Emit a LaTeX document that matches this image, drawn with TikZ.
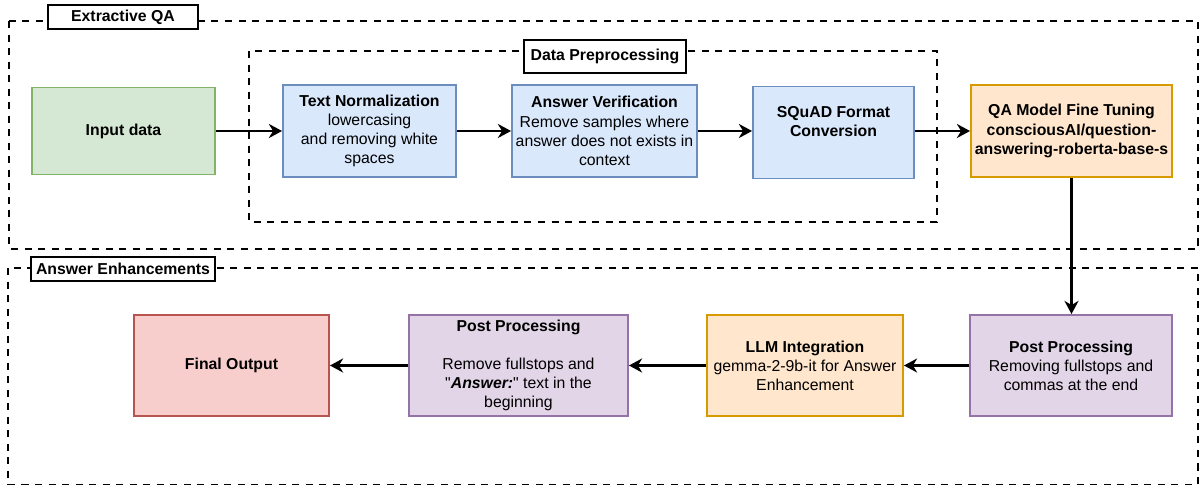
\documentclass[tikz,border=0pt]{standalone}
\usepackage{fontspec}
\setmainfont{Liberation Sans}
\usetikzlibrary{arrows.meta}
\definecolor{gfill}{HTML}{D5E8D4}\definecolor{gline}{HTML}{82B366}
\definecolor{bfill}{HTML}{DAE8FC}\definecolor{bline}{HTML}{6C8EBF}
\definecolor{ofill}{HTML}{FFE6CC}\definecolor{oline}{HTML}{D79B00}
\definecolor{pfill}{HTML}{E1D5E7}\definecolor{pline}{HTML}{9673A6}
\definecolor{rfill}{HTML}{F8CECC}\definecolor{rline}{HTML}{B85450}
\begin{document}
\begin{tikzpicture}[x=0.02cm,y=-0.02cm,
  box/.style={draw, line width=1.1pt, align=center, inner sep=0pt,
    font=\fontsize{9}{10.9}\selectfont},
  greenbox/.style={box, fill=gfill, draw=gline},
  bluebox/.style={box, fill=bfill, draw=bline},
  orangebox/.style={box, fill=ofill, draw=oline},
  purplebox/.style={box, fill=pfill, draw=pline},
  redbox/.style={box, fill=rfill, draw=rline},
  grp/.style={draw, line width=1.1pt, dash pattern=on 4pt off 3.7pt},
  lab/.style={draw, fill=white, line width=1.1pt, inner sep=0pt,
    font=\fontsize{9}{10.9}\selectfont\bfseries},
  flow/.style={line width=1.25pt, -{Stealth[length=7.5pt, width=8pt, inset=2.4pt]}}
]
\useasboundingbox (0,0) rectangle (1200,486);

% group frames
\draw[grp] (9,21) rectangle (1198,249);
\draw[grp] (249,51) rectangle (937,222);
\draw[grp] (8,268) rectangle (1198,484.5);

\node[lab, minimum width=3.0cm, minimum height=0.48cm] (lqa) at (123,17) {Extractive QA};
\node[lab, minimum width=3.24cm, minimum height=0.66cm] (ldp) at (605,56.5) {Data Preprocessing};
\node[lab, minimum width=3.68cm, minimum height=0.48cm] (lae) at (123,269) {Answer Enhancements};

% top row
\node[greenbox, minimum width=3.66cm, minimum height=1.74cm, font=\fontsize{9}{10.9}\selectfont\bfseries] (in) at (123.5,131) {Input data};
\node[bluebox, minimum width=3.46cm, minimum height=1.84cm] (tn) at (369.5,131) {\textbf{Text Normalization}\\lowercasing\\and removing white\\spaces};
\node[bluebox, minimum width=3.7cm, minimum height=1.84cm] (av) at (604.5,131) {\textbf{Answer Verification}\\Remove samples where\\answer does not exists in\\context};
\node[bluebox, minimum width=3.22cm, minimum height=1.84cm, font=\fontsize{9}{10.9}\selectfont\bfseries] (sq) at (833.5,132.5) {\strut SQuAD Format\\\strut Conversion\\\strut};
\node[orangebox, minimum width=4.02cm, minimum height=1.84cm, font=\fontsize{9}{10.9}\selectfont\bfseries] (qa) at (1071.5,131) {QA Model Fine Tuning\\consciousAI/question-\\answering-roberta-base-s};

% bottom row
\node[purplebox, minimum width=4.04cm, minimum height=2.02cm] (pp1) at (1071,365.5) {\textbf{Post Processing}\\Removing fullstops and\\commas at the end};
\node[orangebox, minimum width=3.92cm, minimum height=2.02cm] (llm) at (805,365.5) {\textbf{LLM Integration}\\gemma-2-9b-it for Answer\\Enhancement};
\node[purplebox, minimum width=4.38cm, minimum height=2.02cm] (pp2) at (518.5,365.5) {\strut\textbf{Post Processing}\\\strut\\\strut Remove fullstops and\\\strut\textquotedbl\textbf{\textit{Answer:}}\textquotedbl\ text in the\\\strut beginning};
\node[redbox, minimum width=3.9cm, minimum height=2.02cm, font=\fontsize{9}{10.9}\selectfont\bfseries] (fo) at (231.5,365.5) {Final Output};

% connectors
\draw[flow] (in.east) -- (tn.west);
\draw[flow] (tn.east) -- (av.west);
\draw[flow] (av.east) -- (sq.west |- av.east);
\draw[flow] (sq.east |- qa.west) -- (qa.west);
\draw[flow] (qa.south) -- (qa.south |- pp1.north);
\draw[flow] (pp1.west) -- (llm.east);
\draw[flow] (llm.west) -- (pp2.east);
\draw[flow] (pp2.west) -- (fo.east);
\end{tikzpicture}
\end{document}
